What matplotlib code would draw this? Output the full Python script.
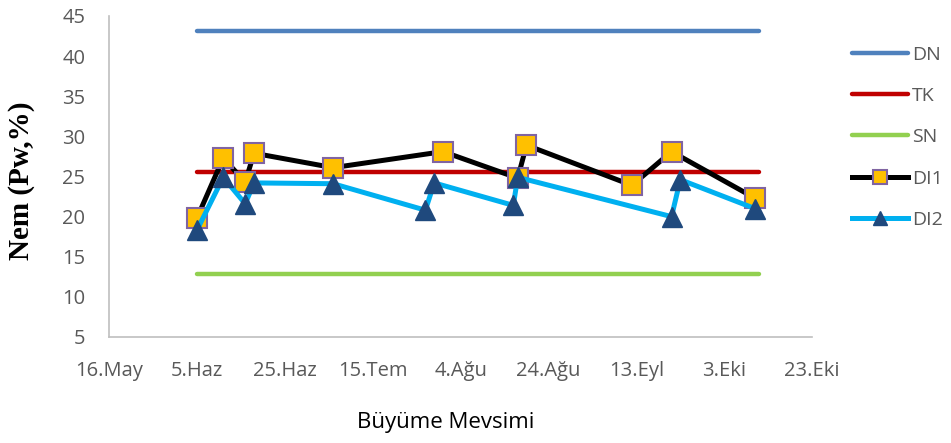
import matplotlib.pyplot as plt

# gün: 16 Mayıs'tan itibaren geçen gün sayısı
x_etiketleri = ['16.May', '5.Haz', '25.Haz', '15.Tem', '4.Ağu', '24.Ağu', '13.Eyl', '3.Eki', '23.Eki']
x_tikler = [0, 20, 40, 60, 80, 100, 120, 140, 160]

sabit_gun = [20, 148]
dn = [43.1, 43.1]
tk = [25.6, 25.6]
sn = [12.9, 12.9]

di1_gun = [20, 26, 31, 33, 51, 76, 93, 95, 119, 128, 147]
di1 = [19.8, 27.3, 24.3, 27.9, 26.1, 28.1, 24.8, 28.9, 23.9, 28.1, 22.3]

di2_gun = [20, 26, 31, 33, 51, 72, 74, 92, 93, 128, 130, 147]
di2 = [18.3, 24.9, 21.6, 24.2, 24.1, 20.8, 24.2, 21.4, 24.9, 20.0, 24.6, 21.0]

gri = '#595959'

fig = plt.figure(figsize=(9.51, 4.43), dpi=100)
ax = fig.add_axes([0.1146, 0.2393, 0.7394, 0.7246])

ax.plot(sabit_gun, dn, color='#4f81bd', lw=3.2, solid_capstyle='round', label='DN')
ax.plot(sabit_gun, tk, color='#c00000', lw=3.2, solid_capstyle='round', label='TK')
ax.plot(sabit_gun, sn, color='#92d050', lw=3.2, solid_capstyle='round', label='SN')
ax.plot(di1_gun, di1, color='black', lw=3.6, marker='s', ms=14,
        mfc='#ffc000', mec='#8064a2', mew=1.5, label='DI1')
ax.plot(di2_gun, di2, color='#00b0f0', lw=3.6, marker='^', ms=14,
        mfc='#1f497d', mec='#1f497d', label='DI2')

ax.set_xlim(0, 160)
ax.set_ylim(5, 45)
ax.set_xticks(x_tikler)
ax.set_xticklabels(x_etiketleri)
ax.set_yticks(range(5, 50, 5))
ax.tick_params(length=0, labelsize=14.5, colors=gri)
ax.tick_params(axis='x', pad=17)
ax.tick_params(axis='y', pad=17)
for t in ax.get_xticklabels() + ax.get_yticklabels():
    t.set_fontfamily('Open Sans')

for s in ['top', 'right']:
    ax.spines[s].set_visible(False)
for s in ['left', 'bottom']:
    ax.spines[s].set_color('#bfbfbf')
    ax.spines[s].set_linewidth(1.2)

fig.text(22 / 951, 1 - 181 / 443, 'Nem (Pw,%)', rotation=90, ha='center', va='center',
         fontfamily='Liberation Serif', fontweight='bold', fontsize=21, color='black')
fig.text(0.469, 0.047, 'Büyüme Mevsimi', fontfamily='Open Sans', fontsize=16,
         color='black', ha='center', va='center')

leg = fig.legend(loc='upper left', bbox_to_anchor=(0.896, 0.897), frameon=False,
                 handlelength=2.9, handletextpad=0.2, labelspacing=1.2,
                 borderpad=0, borderaxespad=0,
                 prop={'family': 'Open Sans', 'size': 14})
for t in leg.get_texts():
    t.set_color(gri)
for h in leg.legend_handles:
    h.set_markersize(10)

fig.savefig('out.png', dpi=100)
